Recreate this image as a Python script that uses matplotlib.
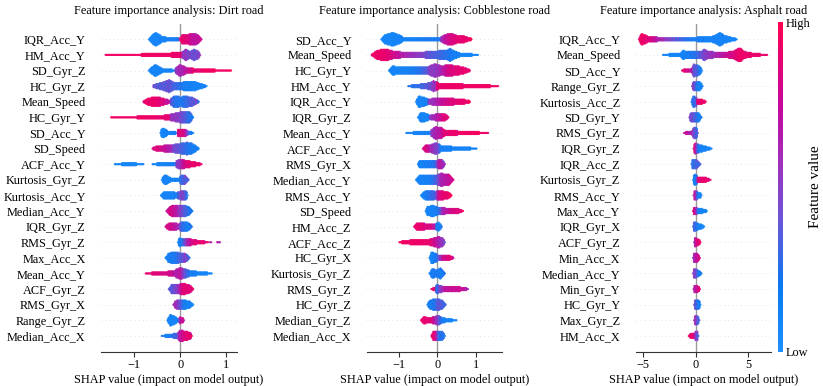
import numpy as np
import matplotlib
matplotlib.use("Agg")
import matplotlib.pyplot as plt
from matplotlib.colors import LinearSegmentedColormap
from matplotlib.cm import ScalarMappable

plt.rcParams["font.family"] = ["Liberation Serif", "DejaVu Serif"]
FS = 8.8

titles = ["Feature importance analysis: Dirt road",
          "Feature importance analysis: Cobblestone road",
          "Feature importance analysis: Asphalt road"]
x_label = "SHAP value (impact on model output)"

dirt_features = ["IQR_Acc_Y", "HM_Acc_Y", "SD_Gyr_Z", "HC_Gyr_Z", "Mean_Speed", "HC_Gyr_Y",
                 "SD_Acc_Y", "SD_Speed", "ACF_Acc_Y", "Kurtosis_Gyr_Z", "Kurtosis_Acc_Y",
                 "Median_Acc_Y", "IQR_Gyr_Z", "RMS_Gyr_Z", "Max_Acc_X", "Mean_Acc_Y",
                 "ACF_Gyr_Z", "RMS_Gyr_X", "Range_Gyr_Z", "Median_Acc_X"]
cobble_features = ["SD_Acc_Y", "Mean_Speed", "HC_Gyr_Y", "HM_Acc_Y", "IQR_Acc_Y", "IQR_Gyr_Z",
                   "Mean_Acc_Y", "ACF_Acc_Y", "RMS_Gyr_X", "Median_Acc_Y", "RMS_Acc_Y",
                   "SD_Speed", "HM_Acc_Z", "ACF_Acc_Z", "HC_Gyr_X", "Kurtosis_Gyr_Z",
                   "RMS_Gyr_Z", "HC_Gyr_Z", "Median_Gyr_Z", "Median_Acc_X"]
asphalt_features = ["IQR_Acc_Y", "Mean_Speed", "SD_Acc_Y", "Range_Gyr_Z", "Kurtosis_Acc_Z",
                    "SD_Gyr_Y", "RMS_Gyr_Z", "IQR_Gyr_Z", "IQR_Acc_Z", "Kurtosis_Gyr_Z",
                    "RMS_Acc_Y", "Max_Acc_Y", "IQR_Gyr_X", "ACF_Gyr_Z", "Min_Acc_X",
                    "Median_Acc_Y", "Min_Gyr_Y", "HC_Gyr_Y", "Max_Gyr_Z", "HM_Acc_X"]

# Each feature: list of strands; strand = list of (SHAP value, half-density of points, feature value 0..1)
dirt_shap = [
    [[(-0.68, .04, .02), (-0.62, .2, .02), (-0.55, .42, .03), (-0.47, .34, .03), (-0.4, .18, .05), (-0.3, .12, .08), (-0.1, .08, .1), (0.0, .06, .2)],
     [(0.0, .1, .85), (0.04, .28, .9), (0.15, .3, .85), (0.28, .38, .7), (0.38, .3, .7), (0.46, .06, .75)]],
    [[(-1.62, .02, .95), (-1.0, .05, .95), (-0.5, .1, .95), (-0.1, .14, .9), (0.05, .18, .85)],
     [(0.05, .2, .55), (0.12, .36, .5), (0.2, .22, .45), (0.3, .35, .4), (0.38, .25, .45), (0.43, .05, .5)]],
    [[(-0.68, .05, .03), (-0.62, .2, .03), (-0.55, .38, .03), (-0.46, .25, .05), (-0.35, .08, .08), (-0.1, .06, .1)],
     [(-0.1, .15, .5), (-0.02, .35, .6), (0.06, .3, .6), (0.12, .2, .7), (0.3, .12, .85), (0.55, .08, .95), (1.1, .04, .97)]],
    [[(-0.58, .08, .4), (-0.45, .2, .35), (-0.32, .3, .35), (-0.24, .42, .4), (-0.15, .25, .3), (0.0, .2, .2), (0.1, .3, .1), (0.3, .3, .05), (0.45, .15, .05), (0.57, .04, .05)]],
    [[(-0.8, .05, .9), (-0.7, .2, .92), (-0.55, .32, .92), (-0.42, .25, .85), (-0.3, .15, .75), (-0.2, .1, .6)],
     [(-0.2, .2, .4), (-0.12, .38, .2), (0.0, .3, .15), (0.1, .35, .2), (0.25, .3, .35), (0.4, .05, .4)]],
    [[(-1.5, .03, .95), (-1.0, .06, .95), (-0.5, .1, .92), (-0.2, .16, .85)],
     [(-0.2, .2, .55), (-0.05, .3, .5), (0.1, .38, .35), (0.2, .35, .2), (0.28, .05, .15)]],
    [[(-0.43, .05, .03), (-0.4, .3, .03), (-0.32, .25, .05), (-0.25, .08, .05), (-0.05, .06, .1)],
     [(-0.05, .2, .8), (0.05, .25, .85), (0.12, .2, .7), (0.2, .1, .2), (0.28, .03, .1)]],
    [[(-0.6, .05, .85), (-0.5, .18, .85), (-0.3, .2, .7), (-0.15, .22, .55)],
     [(-0.15, .25, .45), (0.0, .32, .35), (0.15, .4, .2), (0.28, .3, .1), (0.4, .04, .1)]],
    [[(-1.42, .05, .05), (-1.1, .08, .05), (-0.8, .05, .05)],
     [(-0.6, .05, .05), (-0.3, .1, .05), (-0.1, .12, .15)],
     [(-0.08, .2, .5), (0.0, .32, .55), (0.1, .25, .8), (0.3, .15, .9), (0.46, .05, .95)]],
    [[(-0.4, .05, .05), (-0.35, .3, .05), (-0.28, .25, .05), (-0.2, .1, .05), (0.0, .12, .1)],
     [(0.0, .25, .2), (0.1, .3, .35), (0.18, .05, .2)]],
    [[(-0.42, .05, .05), (-0.35, .25, .05), (-0.2, .25, .05), (-0.05, .15, .1)],
     [(-0.05, .2, .3), (0.05, .3, .5), (0.13, .3, .3), (0.16, .05, .1)]],
    [[(-0.3, .05, .75), (-0.22, .3, .8), (-0.1, .38, .7), (0.0, .35, .5), (0.12, .35, .3), (0.2, .25, .2), (0.26, .04, .2)]],
    [[(-0.32, .05, .8), (-0.25, .22, .8), (-0.12, .25, .7), (-0.04, .15, .6), (0.02, .3, .3), (0.15, .3, .1), (0.25, .05, .1)]],
    [[(-0.05, .05, .05), (-0.02, .28, .05), (0.05, .2, .2), (0.15, .25, .6), (0.3, .15, .85), (0.45, .1, .9), (0.6, .04, .9)],
     [(0.64, .06, .6), (0.67, .06, .6)],
     [(0.8, .06, .7), (0.86, .06, .6)]],
    [[(-0.32, .05, .1), (-0.25, .3, .1), (-0.12, .38, .15), (0.0, .3, .3), (0.1, .3, .45), (0.2, .05, .4)]],
    [[(-0.75, .04, .9), (-0.55, .08, .85), (-0.3, .12, .8), (-0.1, .18, .7)],
     [(-0.1, .25, .6), (0.0, .35, .7), (0.1, .3, .4), (0.2, .18, .15), (0.45, .1, .05), (0.68, .04, .05)]],
    [[(-0.25, .05, .4), (-0.18, .3, .35), (-0.05, .3, .5), (0.05, .35, .85), (0.18, .3, .85), (0.28, .05, .85)]],
    [[(-0.15, .05, .6), (-0.1, .25, .6), (0.0, .3, .4), (0.1, .3, .1), (0.2, .2, .05), (0.28, .05, .05)]],
    [[(-0.28, .05, .05), (-0.22, .35, .05), (-0.12, .25, .05), (-0.05, .08, .1), (0.0, .2, .6), (0.06, .15, .8), (0.08, .03, .8)]],
    [[(-0.4, .04, .1), (-0.25, .1, .1), (-0.08, .15, .3), (0.0, .35, .7), (0.12, .3, .85), (0.22, .2, .9), (0.25, .04, .9)]],
]

cobble_shap = [
    [[(-1.45, .05, .03), (-1.35, .3, .03), (-1.15, .42, .03), (-1.0, .3, .05), (-0.88, .12, .05), (-0.5, .08, .1), (0.1, .08, .15)],
     [(0.1, .15, .5), (0.2, .3, .7), (0.35, .38, .8), (0.5, .25, .85), (0.7, .2, .9), (0.89, .05, .95)]],
    [[(-1.7, .05, .92), (-1.55, .28, .92), (-1.36, .38, .9), (-1.15, .25, .8), (-0.8, .15, .6), (-0.3, .18, .45)],
     [(-0.3, .2, .4), (0.0, .25, .3), (0.25, .3, .2), (0.33, .4, .15), (0.45, .25, .1), (0.6, .12, .05), (1.06, .04, .05)]],
    [[(-1.25, .05, .05), (-1.15, .28, .05), (-0.95, .2, .05), (-0.7, .22, .1), (-0.45, .22, .2), (-0.2, .25, .4)],
     [(-0.2, .3, .5), (-0.05, .42, .5), (0.1, .3, .6), (0.3, .35, .8), (0.5, .3, .85), (0.7, .2, .9), (0.85, .05, .9)]],
    [[(-0.75, .04, .2), (-0.55, .1, .2), (-0.35, .15, .3), (-0.18, .22, .4), (-0.1, .35, .5), (0.0, .25, .6)],
     [(0.0, .2, .9), (0.3, .16, .92), (0.8, .12, .95), (1.3, .08, .95), (1.58, .03, .95)]],
    [[(-0.55, .05, .03), (-0.48, .35, .03), (-0.35, .3, .05), (-0.22, .15, .1)],
     [(-0.22, .15, .5), (-0.1, .22, .55), (0.1, .22, .7), (0.4, .2, .85), (0.7, .15, .9), (0.85, .05, .9)]],
    [[(-0.5, .05, .05), (-0.42, .3, .05), (-0.3, .25, .05), (-0.18, .12, .1)],
     [(-0.18, .12, .5), (-0.05, .2, .6), (0.1, .25, .75), (0.2, .22, .85), (0.29, .05, .85)]],
    [[(-0.8, .04, .05), (-0.5, .08, .05), (-0.15, .12, .1)],
     [(-0.15, .2, .5), (-0.05, .4, .6), (0.1, .35, .7), (0.2, .18, .85), (0.6, .12, .95), (1.0, .08, .95), (1.32, .03, .95)]],
    [[(-0.37, .05, .85), (-0.3, .22, .85), (-0.15, .25, .6), (-0.05, .35, .5), (0.05, .3, .4), (0.1, .15, .1), (0.5, .12, .05), (1.02, .04, .05)]],
    [[(-0.5, .05, .05), (-0.45, .22, .05), (-0.25, .2, .1), (-0.05, .2, .2), (0.05, .3, .7), (0.15, .25, .6), (0.2, .05, .5)]],
    [[(-0.55, .05, .05), (-0.45, .28, .05), (-0.2, .3, .1), (-0.02, .3, .3), (0.1, .4, .6), (0.3, .35, .7), (0.42, .05, .7)]],
    [[(-0.42, .05, .05), (-0.35, .25, .05), (-0.2, .3, .2), (-0.05, .25, .3), (0.05, .3, .8), (0.2, .25, .9), (0.3, .18, .9), (0.37, .04, .9)]],
    [[(-0.3, .05, .05), (-0.25, .3, .05), (-0.1, .35, .05), (0.05, .2, .2), (0.15, .2, .6), (0.4, .18, .8), (0.55, .15, .85), (0.67, .04, .9)]],
    [[(-0.6, .05, .9), (-0.5, .25, .92), (-0.35, .2, .85), (-0.15, .15, .8), (-0.02, .15, .6)],
     [(-0.02, .2, .2), (0.05, .3, .1), (0.12, .05, .1)]],
    [[(-0.98, .04, .95), (-0.8, .12, .95), (-0.5, .15, .92), (-0.2, .18, .9), (-0.05, .3, .75), (0.05, .35, .6), (0.15, .25, .5), (0.2, .05, .5)]],
    [[(-0.2, .05, .1), (-0.15, .35, .05), (-0.05, .3, .1), (0.03, .15, .3), (0.15, .18, .75), (0.3, .18, .85), (0.42, .04, .85)]],
    [[(-0.2, .05, .1), (-0.12, .3, .1), (-0.02, .2, .15), (0.08, .35, .1), (0.15, .2, .1), (0.2, .04, .1)]],
    [[(-0.15, .05, .9), (-0.05, .1, .85), (-0.02, .3, .1), (0.05, .25, .4), (0.2, .15, .7), (0.5, .14, .75), (0.7, .12, .7), (0.8, .04, .6)]],
    [[(-0.25, .05, .15), (-0.18, .3, .1), (-0.05, .35, .2), (0.05, .35, .4), (0.15, .25, .3), (0.22, .05, .3)]],
    [[(-0.42, .05, .9), (-0.35, .2, .9), (-0.15, .18, .85), (-0.05, .25, .65), (0.03, .3, .45), (0.12, .18, .15), (0.25, .1, .05), (0.5, .04, .05)]],
    [[(-0.15, .05, .9), (-0.1, .3, .9), (-0.02, .3, .7), (0.05, .3, .2), (0.15, .25, .2), (0.2, .05, .2)]],
]

asphalt_shap = [
    [[(-5.4, .05, .95), (-5.2, .35, .95), (-4.9, .3, .9), (-4.5, .18, .85), (-4.0, .15, .75), (-3.0, .1, .55), (-1.5, .1, .3), (-0.5, .12, .15), (1.5, .15, .05), (2.0, .3, .05), (2.3, .45, .05), (2.7, .25, .05), (3.2, .15, .05), (3.9, .04, .05)]],
    [[(-3.1, .03, .05), (-2.3, .08, .05), (-1.5, .1, .05), (-1.2, .3, .05), (-0.8, .2, .1), (0.0, .2, .2), (0.6, .25, .4), (0.8, .4, .45), (1.1, .22, .5), (2.0, .18, .6), (3.5, .2, .8), (4.2, .45, .92), (4.6, .22, .92), (5.5, .1, .9), (6.8, .03, .9)]],
    [[(-1.3, .04, .85), (-1.0, .1, .85), (-0.4, .12, .7), (-0.2, .4, .4), (0.2, .35, .3), (0.5, .2, .1), (0.6, .04, .1)]],
    [[(-0.35, .05, .5), (-0.2, .3, .5), (0.0, .25, .3), (0.2, .3, .1), (0.5, .25, .05), (0.65, .04, .05)]],
    [[(-0.4, .05, .2), (-0.25, .35, .2), (0.05, .3, .3), (0.15, .18, .85), (0.6, .15, .9), (0.95, .04, .9)]],
    [[(-0.6, .05, .5), (-0.45, .3, .45), (0.0, .3, .3), (0.3, .28, .1), (0.55, .04, .05)]],
    [[(-1.1, .04, .7), (-0.8, .1, .7), (-0.35, .12, .6), (-0.2, .35, .45), (0.1, .35, .3), (0.2, .04, .3)]],
    [[(-0.2, .05, .9), (-0.1, .35, .85), (0.1, .3, .5), (0.3, .25, .1), (0.8, .18, .05), (1.5, .04, .05)]],
    [[(-0.4, .05, .2), (-0.3, .3, .2), (0.1, .3, .3), (0.35, .1, .2), (0.45, .04, .2)]],
    [[(-0.25, .05, .1), (-0.15, .35, .05), (0.1, .3, .2), (0.2, .15, .85), (0.9, .15, .9), (1.4, .04, .9)]],
    [[(-0.2, .05, .8), (-0.1, .3, .7), (0.1, .3, .5), (0.2, .2, .1), (0.5, .15, .05), (0.55, .04, .05)]],
    [[(-0.25, .05, .9), (-0.15, .25, .85), (0.1, .2, .5), (0.3, .15, .05), (0.9, .12, .05), (1.05, .04, .05)]],
    [[(-0.25, .05, .3), (-0.15, .3, .3), (0.1, .25, .2), (0.3, .15, .05), (0.7, .12, .05), (0.8, .04, .05)]],
    [[(-0.15, .05, .6), (-0.1, .3, .6), (0.1, .25, .8), (0.35, .15, .9), (0.45, .04, .9)]],
    [[(-0.25, .05, .6), (-0.15, .3, .6), (0.1, .3, .7), (0.3, .2, .8), (0.4, .04, .8)]],
    [[(-0.25, .05, .5), (-0.15, .3, .5), (0.1, .25, .4), (0.3, .18, .1), (0.55, .04, .05)]],
    [[(-0.2, .05, .7), (-0.12, .25, .65), (0.1, .25, .7), (0.3, .15, .85), (0.4, .04, .85)]],
    [[(-0.15, .05, .4), (-0.05, .3, .4), (0.2, .3, .2), (0.4, .2, .05), (0.45, .04, .05)]],
    [[(-0.15, .05, .7), (-0.05, .3, .6), (0.15, .3, .4), (0.3, .15, .2), (0.35, .04, .2)]],
    [[(-0.65, .05, .95), (-0.5, .15, .95), (-0.1, .18, .8), (0.0, .3, .5), (0.15, .3, .4), (0.25, .04, .4)]],
]

panel_features = [dirt_features, cobble_features, asphalt_features]
panel_shap = [dirt_shap, cobble_shap, asphalt_shap]
panel_xlim = [(-1.72, 1.23), (-1.83, 1.69), (-5.71, 7.14)]
panel_xticks = [[-1, 0, 1], [-1, 0, 1], [-5, 0, 5]]

cmap = LinearSegmentedColormap.from_list(
    "red_blue",
    [(0.0, "#1e8fff"), (0.2, "#0a78f0"), (0.4, "#6a55d8"), (0.55, "#9a35c0"),
     (0.75, "#c8069c"), (1.0, "#ff0052")])

fig = plt.figure(figsize=(8.23, 3.86), dpi=100)
W, H = 823.0, 386.0
lefts = [101.0, 366.7, 635.7]
widths = [136.0, 135.6, 135.0]
ax_bottom = 1 - 351.5 / H
ax_height = (351.5 - 23.7) / H

for p in range(3):
    ax = fig.add_axes([lefts[p] / W, ax_bottom, widths[p] / W, ax_height])
    feats = panel_features[p]
    n = len(feats)
    x0, x1 = panel_xlim[p]
    xr = x1 - x0
    px_per_unit = widths[p] / xr
    xs_all, ys_all, cs_all = [], [], []
    for i, strands in enumerate(panel_shap[p]):
        ypos = n - 1 - i
        ax.axhline(y=ypos, color="#cccccc", lw=0.5, dashes=(1, 5), zorder=-1)
        for strand in strands:
            kx = np.array([k[0] for k in strand])
            kh = np.array([k[1] for k in strand])
            kc = np.array([k[2] for k in strand])
            npts = max(2, int((kx[-1] - kx[0]) * px_per_unit / 0.9) + 1)
            xx = np.linspace(kx[0], kx[-1], npts)
            hh = np.interp(xx, kx, kh)
            cc = np.interp(xx, kx, kc)
            for j, (xv, hv, cv) in enumerate(zip(xx, hh, cc)):
                m = int(hv / 0.065)
                offs = np.arange(-m, m + 1)
                xs_all.extend([xv] * len(offs))
                ys_all.extend(ypos + offs * 0.065)
                mix = np.array([0.0, 0.14, -0.14, 0.07])[(np.abs(offs) + j) % 4]
                cs_all.extend(np.clip(cv + mix, 0, 1))
    ax.scatter(xs_all, ys_all, c=cs_all, cmap=cmap, vmin=0, vmax=1, s=2.6,
               linewidths=0, alpha=0.9, rasterized=True, zorder=3)
    ax.axvline(0, color="#999999", lw=1, zorder=-1)
    ax.set_xlim(x0, x1)
    ax.set_ylim(-1, n)
    ax.set_yticks(range(n))
    ax.set_yticklabels(feats[::-1], fontsize=FS)
    ax.tick_params(axis="y", length=0, pad=11)
    ax.set_xticks(panel_xticks[p])
    ax.set_xticklabels(["\u22121" if t == -1 else ("\u22125" if t == -5 else str(t)) for t in panel_xticks[p]], fontsize=FS)
    ax.tick_params(axis="x", length=3.5, width=0.8, color="#333333", pad=2)
    for s in ["left", "right", "top"]:
        ax.spines[s].set_visible(False)
    ax.spines["bottom"].set_color("#333333")
    ax.set_xlabel(x_label, fontsize=FS, labelpad=2)
    ax.set_title(titles[p], fontsize=FS, pad=7)

cax = fig.add_axes([778.3 / W, 1 - 351.7 / H, 4.4 / W, (351.7 - 22.3) / H])
sm = ScalarMappable(cmap=cmap)
sm.set_array([0, 1])
cb = fig.colorbar(sm, cax=cax, ticks=[0, 1])
cb.set_ticklabels(["Low", "High"])
cb.ax.tick_params(labelsize=FS, length=0, pad=2)
cb.set_label("Feature value", size=11, labelpad=-1)
cb.outline.set_visible(False)

fig.savefig("out.png", dpi=100)
